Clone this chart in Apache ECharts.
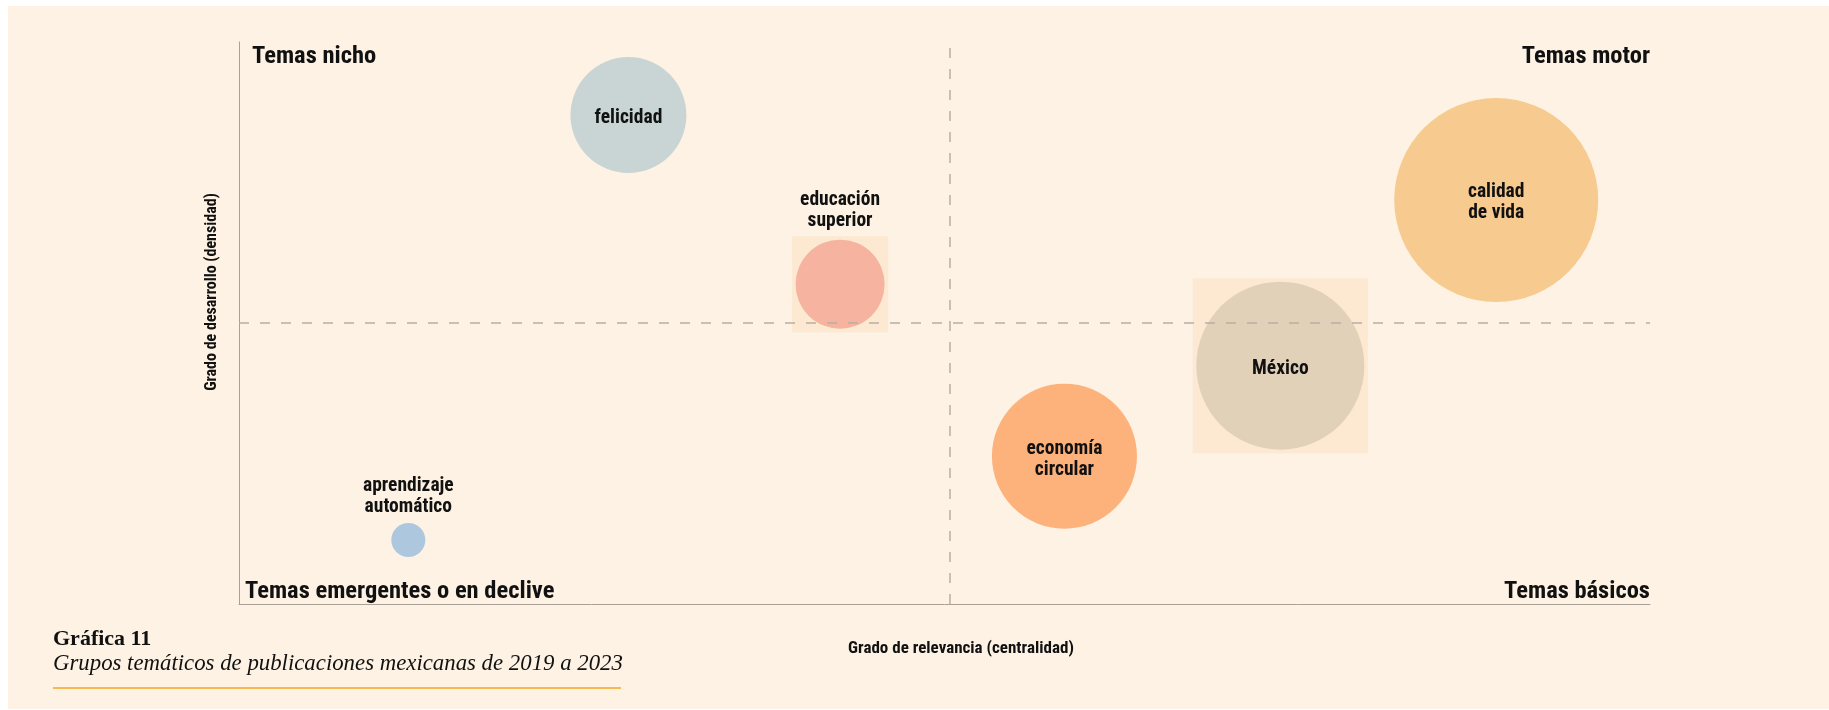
<!DOCTYPE html>
<html>
<head>
<meta charset="utf-8">
<script src="https://cdn.jsdelivr.net/npm/echarts@6/dist/echarts.min.js"></script>
<style>
  html, body { margin: 0; padding: 0; background: #fff; }
  #chart { width: 1829px; height: 710px; }
</style>
</head>
<body>
<div id="chart"></div>
<script>
// temas (clusters)
var temas = ['felicidad', 'educación\nsuperior', 'México', 'economía\ncircular', 'calidad\nde vida', 'aprendizaje\nautomático']
// grado de relevancia (centralidad)
var centralidad = [2.76, 4.26, 7.38, 5.85, 8.91, 1.2]
// grado de desarrollo (densidad)
var densidad = [8.7, 5.69, 4.24, 2.63, 7.19, 1.14]
// tamaño del grupo (frecuencia)
var frecuencia = [3360, 1980, 7060, 5260, 10400, 290]
var colores = ['#C9D4D4', '#F5B3A0', '#E2D1B9', '#FDB27B', '#F7CA8F', '#ADC8DE']
// etiqueta encima del círculo
var etiquetaArriba = [false, true, false, false, false, true]
// grupos resaltados
var resaltado = [false, true, true, false, false, false]
var corteX = 5.04
var corteY = 5.0

var font = "'Roboto Condensed',Roboto,sans-serif"

var chart = echarts.init(document.getElementById('chart'))

function diam(v) { return 2 * Math.sqrt(v) }

var puntos = temas.map(function (t, i) {
  var arriba = etiquetaArriba[i]
  return {
    name: t,
    value: [centralidad[i], densidad[i], frecuencia[i]],
    symbolSize: diam(frecuencia[i]),
    itemStyle: { color: colores[i], opacity: 1 },
    label: {
      show: true,
      position: arriba ? 'top' : 'inside',
      distance: diam(frecuencia[i]) < 50 ? 5 : 8,
      offset: arriba ? [0, 0] : [0, 3]
    }
  }
})

var cuadros = []
temas.forEach(function (t, i) {
  if (resaltado[i]) {
    cuadros.push({
      name: t,
      value: [centralidad[i], densidad[i]],
      symbolSize: diam(frecuencia[i]) + 7
    })
  }
})

chart.setOption({
  backgroundColor: '#fff',
  animation: false,
  grid: { left: 239, right: 179, top: 42, bottom: 106 },
  xAxis: {
    type: 'value',
    min: 0,
    max: 10,
    axisLine: { show: true, lineStyle: { color: '#AAA196', width: 1 } },
    axisTick: { show: false },
    axisLabel: { show: false },
    splitLine: { show: false }
  },
  yAxis: {
    type: 'value',
    min: 0,
    max: 10,
    axisLine: { show: true, lineStyle: { color: '#AAA196', width: 1 } },
    axisTick: { show: false },
    axisLabel: { show: false },
    splitLine: { show: false }
  },
  graphic: [
    {
      type: 'rect', z: -10, silent: true,
      shape: { x: 8, y: 6, width: 1821, height: 703 },
      style: { fill: '#FDF2E3' }
    },
    {
      type: 'text', x: 252, y: 57,
      style: { text: 'Temas nicho', font: 'bold 24.5px ' + font, fill: '#111', verticalAlign: 'middle' }
    },
    {
      type: 'text', x: 1650, y: 57,
      style: { text: 'Temas motor', font: 'bold 24.5px ' + font, fill: '#111', align: 'right', verticalAlign: 'middle' }
    },
    {
      type: 'text', x: 245, y: 592,
      style: { text: 'Temas emergentes o en declive', font: 'bold 24.5px ' + font, fill: '#111', verticalAlign: 'middle' }
    },
    {
      type: 'text', x: 1650, y: 592,
      style: { text: 'Temas básicos', font: 'bold 24.5px ' + font, fill: '#111', align: 'right', verticalAlign: 'middle' }
    },
    {
      type: 'text', x: 961, y: 649,
      style: {
        text: 'Grado de relevancia (centralidad)', font: 'bold 17px ' + font, fill: '#111',
        align: 'center', verticalAlign: 'middle'
      }
    },
    {
      type: 'text', x: 212, y: 292, rotation: Math.PI / 2,
      style: {
        text: 'Grado de desarrollo (densidad)', font: 'bold 16px ' + font, fill: '#111',
        align: 'center', verticalAlign: 'middle'
      }
    },
    {
      type: 'text', left: 53, top: 628,
      style: { text: 'Gráfica 11', font: 'bold 22px "Liberation Serif", serif', fill: '#111' }
    },
    {
      type: 'text', left: 53, top: 653,
      style: { text: 'Grupos temáticos de publicaciones mexicanas de 2019 a 2023', font: 'italic 22.8px "Liberation Serif", serif', fill: '#111' }
    },
    {
      type: 'line', silent: true,
      shape: { x1: 53, y1: 688, x2: 621, y2: 688 },
      style: { stroke: '#F5A623', lineWidth: 1.5 }
    }
  ],
  series: [
    {
      type: 'scatter',
      symbol: 'rect',
      silent: true,
      z: 1,
      itemStyle: { color: '#FCE6CC' },
      data: cuadros,
      markLine: {
        silent: true,
        symbol: 'none',
        label: { show: false },
        lineStyle: { color: '#B8AFA4', type: [10, 11], width: 1.5 },
        data: [{ xAxis: corteX }, { yAxis: corteY }]
      }
    },
    {
      type: 'scatter',
      z: 3,
      label: {
        color: '#111',
        fontFamily: font,
        fontWeight: 'bold',
        fontSize: 19.5,
        lineHeight: 21,
        formatter: '{b}'
      },
      emphasis: { disabled: true },
      data: puntos
    }
  ]
})
</script>
</body>
</html>
